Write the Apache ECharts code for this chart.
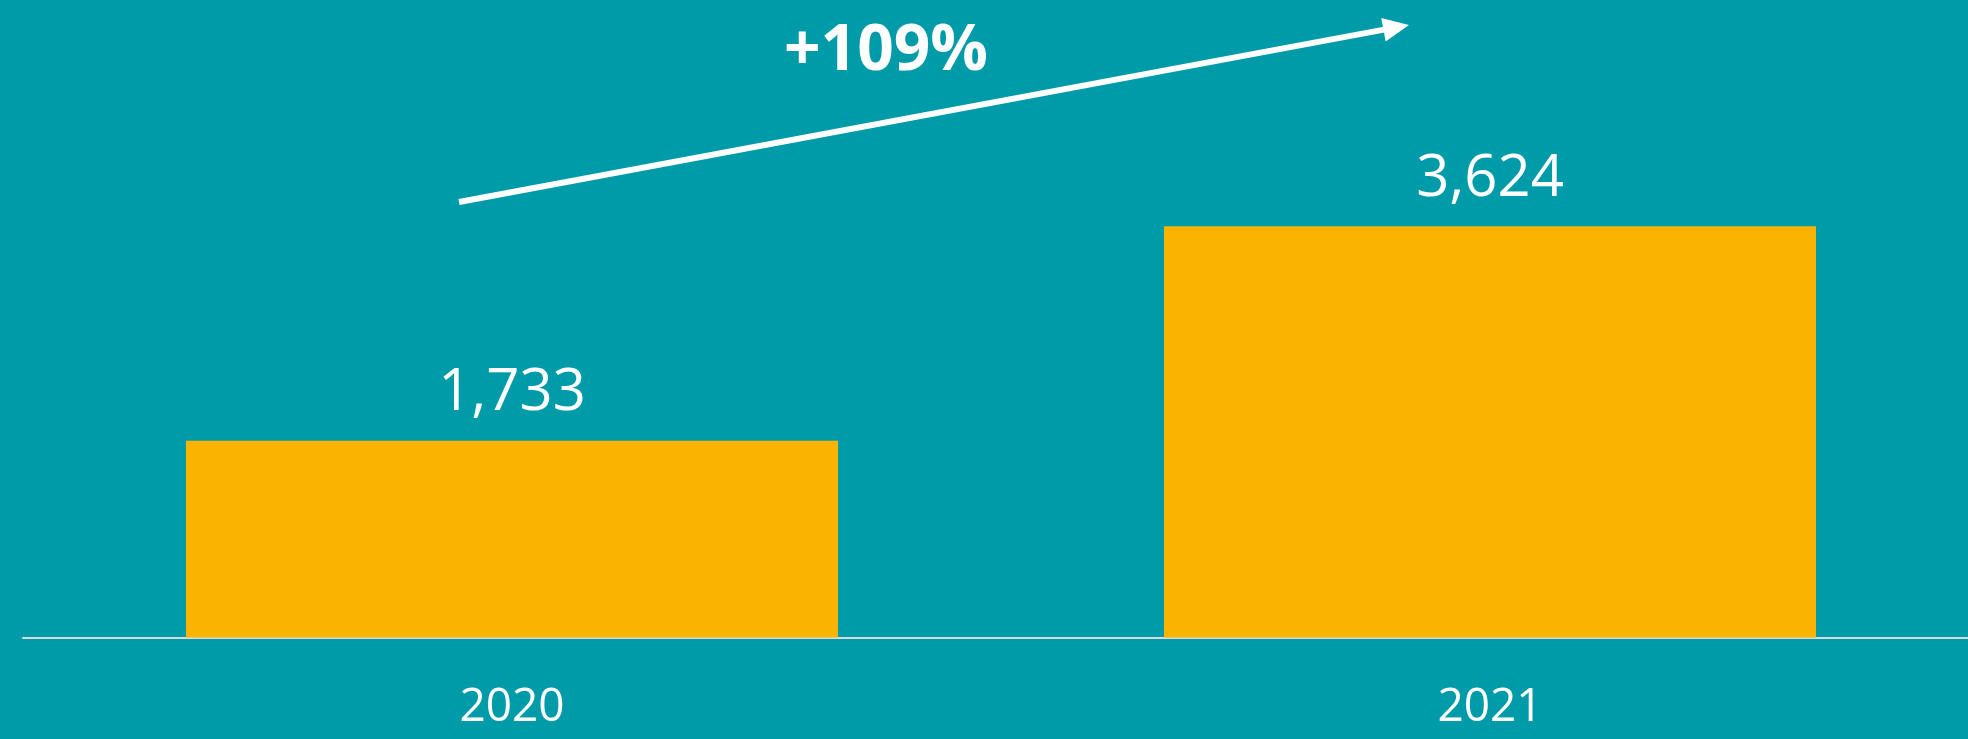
<!DOCTYPE html>
<html>
<head>
<meta charset="utf-8">
<script src="https://cdn.jsdelivr.net/npm/echarts@6/dist/echarts.min.js"></script>
<style>
  html, body { margin: 0; padding: 0; background: #009ba8; }
  #chart { width: 1968px; height: 739px; }
</style>
</head>
<body>
<div id="chart"></div>
<script>
const years = ['2020', '2021'];
const values = [1733, 3624];
const growthLabel = '+109%';

const chart = echarts.init(document.getElementById('chart'));

// arrow from 2020 up to 2021
const arrowStart = [459, 202];
const arrowTip = [1409, 25];
const headLen = 26, headHalf = 12;
const dx = arrowTip[0] - arrowStart[0], dy = arrowTip[1] - arrowStart[1];
const len = Math.sqrt(dx * dx + dy * dy);
const ux = dx / len, uy = dy / len;
const baseX = arrowTip[0] - ux * headLen, baseY = arrowTip[1] - uy * headLen;

const option = {
  backgroundColor: '#009ba8',
  animation: false,
  grid: { left: 23, width: 1956, top: 70, bottom: 101.5, outerBoundsMode: 'none', containLabel: false },
  xAxis: {
    type: 'category',
    data: years,
    axisTick: { show: false },
    axisLine: { lineStyle: { color: '#d9d9d9', width: 2 } },
    axisLabel: {
      color: '#fff',
      fontFamily: 'Open Sans',
      fontSize: 46,
      margin: 47
    }
  },
  yAxis: {
    type: 'value',
    min: 0,
    max: 5000,
    show: false,
    splitLine: { show: false }
  },
  series: [{
    type: 'bar',
    data: values,
    barWidth: 652,
    itemStyle: { color: '#fab400' },
    label: {
      show: true,
      position: 'top',
      distance: 18,
      color: '#fff',
      fontFamily: 'Open Sans',
      fontSize: 58,
      formatter: p => p.value.toLocaleString('en-US')
    }
  }],
  graphic: [
    {
      type: 'line',
      shape: { x1: arrowStart[0], y1: arrowStart[1], x2: baseX + ux * 2, y2: baseY + uy * 2 },
      style: { stroke: '#fff', lineWidth: 6 }
    },
    {
      type: 'polygon',
      shape: {
        points: [
          arrowTip,
          [baseX - uy * headHalf, baseY + ux * headHalf],
          [baseX + uy * headHalf, baseY - ux * headHalf]
        ]
      },
      style: { fill: '#fff' }
    },
    {
      type: 'text',
      x: 886,
      y: 52,
      style: {
        text: growthLabel,
        fill: '#fff',
        font: 'bold 64px "Open Sans"',
        textAlign: 'center',
        textVerticalAlign: 'middle'
      }
    }
  ]
};
chart.setOption(option);
</script>
</body>
</html>
